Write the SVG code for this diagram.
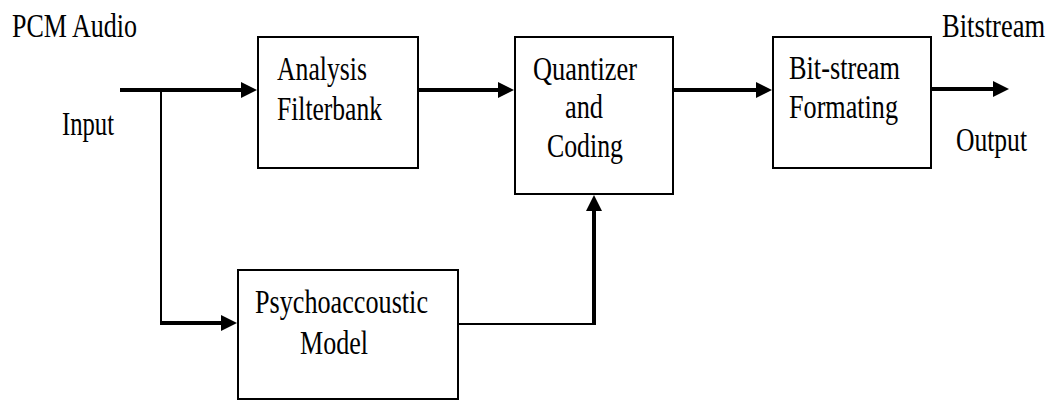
<svg xmlns="http://www.w3.org/2000/svg" width="1055" height="401" viewBox="0 0 1055 401">
  <style>
    .box { fill: #ffffff; stroke: #000000; stroke-width: 2; }
    .t { font-family: "Liberation Serif", "Times New Roman", serif; font-size: 34px; fill: #000000; }
    .thick { fill: none; stroke: #000000; stroke-width: 4; }
    .thin { fill: none; stroke: #000000; stroke-width: 2; }
  </style>
  <defs>
    <marker id="arrow" markerUnits="userSpaceOnUse" markerWidth="17" markerHeight="18" viewBox="0 0 17 18" refX="11" refY="9" orient="auto">
      <path d="M0,1 L16,9 L0,17 Z" fill="#000000"/>
    </marker>
  </defs>
  <rect x="0" y="0" width="1055" height="401" fill="#ffffff"/>

  <g id="labels">
    <text class="t" x="12" y="37" textLength="125" lengthAdjust="spacingAndGlyphs">PCM Audio</text>
    <text class="t" x="62" y="135" textLength="52" lengthAdjust="spacingAndGlyphs">Input</text>
    <text class="t" transform="translate(942,37) scale(0.78,1)" x="0" y="0">Bitstream</text>
    <text class="t" x="956" y="151" textLength="71" lengthAdjust="spacingAndGlyphs">Output</text>
  </g>

  <g id="analysis">
    <rect class="box" x="258" y="37" width="160" height="131"/>
    <text class="t" x="277" y="80" textLength="90" lengthAdjust="spacingAndGlyphs">Analysis</text>
    <text class="t" x="277" y="120" textLength="105" lengthAdjust="spacingAndGlyphs">Filterbank</text>
  </g>

  <g id="quantizer">
    <rect class="box" x="515" y="37" width="158" height="157"/>
    <text class="t" x="533" y="80" textLength="104" lengthAdjust="spacingAndGlyphs">Quantizer</text>
    <text class="t" x="565" y="118" textLength="38" lengthAdjust="spacingAndGlyphs">and</text>
    <text class="t" x="547" y="157" textLength="76" lengthAdjust="spacingAndGlyphs">Coding</text>
  </g>

  <g id="formatting">
    <rect class="box" x="773" y="37" width="158" height="131"/>
    <text class="t" x="789" y="79" textLength="111" lengthAdjust="spacingAndGlyphs">Bit-stream</text>
    <text class="t" x="789" y="118" textLength="109" lengthAdjust="spacingAndGlyphs">Formating</text>
  </g>

  <g id="psycho">
    <rect class="box" x="238" y="270" width="220" height="129"/>
    <text class="t" x="255" y="313" textLength="173" lengthAdjust="spacingAndGlyphs">Psychoaccoustic</text>
    <text class="t" x="300" y="354" textLength="68" lengthAdjust="spacingAndGlyphs">Model</text>
  </g>

  <g id="connectors">
    <line class="thick" x1="120" y1="90" x2="252" y2="90" marker-end="url(#arrow)"/>
    <line class="thin" x1="161" y1="90" x2="161" y2="324"/>
    <line class="thick" x1="160" y1="323" x2="232" y2="323" marker-end="url(#arrow)"/>
    <line class="thick" x1="418" y1="90" x2="509" y2="90" marker-end="url(#arrow)"/>
    <line class="thick" x1="673" y1="90" x2="767" y2="90" marker-end="url(#arrow)"/>
    <line class="thick" x1="931" y1="89" x2="1004" y2="89" marker-end="url(#arrow)"/>
    <line class="thin" x1="458" y1="324" x2="595" y2="324"/>
    <line class="thick" x1="594" y1="325" x2="594" y2="200" marker-end="url(#arrow)"/>
  </g>
</svg>
